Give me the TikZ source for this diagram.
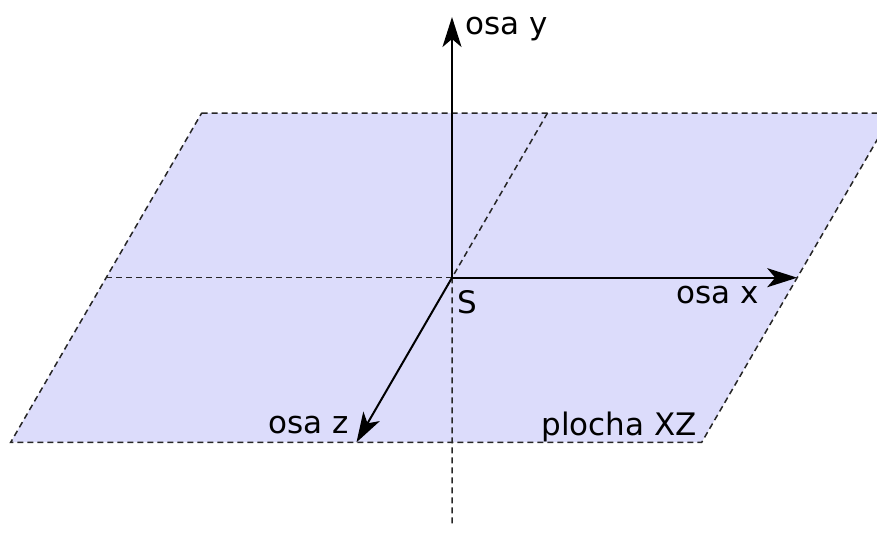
\documentclass[tikz,border=0pt]{standalone}
\usepackage{fontspec}
\setmainfont{DejaVu Sans}
\usetikzlibrary{arrows.meta}
\definecolor{planefill}{RGB}{220,220,251}

\begin{document}
\begin{tikzpicture}[
  x=0.5pt, y=-0.5pt,
  >={Stealth[length=15pt, width=9.5pt, inset=4pt]},
  every node/.style={font=\fontsize{15.5}{18}\selectfont, inner sep=0pt, anchor=base west},
  guide/.style={line width=0.75pt, black!85, dash pattern=on 3pt off 2pt},
  axis/.style={->, line width=1pt},
]
  \clip (0, 0) rectangle (877, 532);

  % Plane corners and guide points
  \coordinate (S) at (452, 277.7);
  \coordinate (tl) at (201.7, 113);
  \coordinate (tr) at (892.7, 113);
  \coordinate (br) at (701.7, 442.3);
  \coordinate (bl) at (10.7, 442.3);
  \coordinate (ml) at (106.2, 277.7);
  \coordinate (mr) at (797.2, 277.7);
  \coordinate (mt) at (547.5, 113);
  \coordinate (zend) at (356.5, 442.3);
  \coordinate (yend) at (452, 17);
  \coordinate (vbot) at (452, 527);

  % Plane XZ
  \fill[planefill] (tl) -- (tr) -- (br) -- (bl) -- cycle;
  \draw[guide] (tl) -- (tr) -- (br) -- (bl) -- cycle;
  \draw[guide] (ml) -- (S);
  \draw[guide] (mt) -- (S) -- (vbot);

  % Axes
  \draw[axis] (S) -- (yend);
  \draw[axis] (S) -- (mr);
  \draw[axis] (S) -- (zend);

  % Labels
  \node (ylab) at (465, 34) {osa y};
  \node (slab) at (457, 313) {S};
  \node (xlab) at (676, 303) {osa x};
  \node (zlab) at (268, 433) {osa z};
  \node (plab) at (541, 435) {plocha XZ};
\end{tikzpicture}
\end{document}
